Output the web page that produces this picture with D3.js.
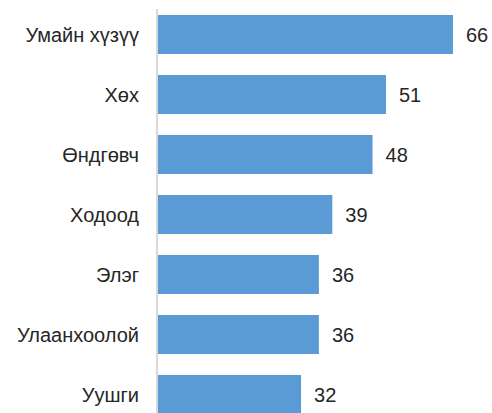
<!DOCTYPE html>
<html><head><meta charset="utf-8">
<script src="https://cdn.jsdelivr.net/npm/d3@7"></script>
<style>body{margin:0;background:#fff}svg{display:block}</style>
</head><body>
<svg id="c" width="492" height="413"></svg>
<script>
const categories = ["Умайн хүзүү","Хөх","Өндгөвч","Ходоод","Элэг","Улаанхоолой","Уушги"];
const values = [66,51,48,39,36,36,32];

const svg = d3.select("#c");
const x0 = 158;
const x = d3.scaleLinear().domain([0, 66]).range([x0, x0 + 295]);
const y = d3.scaleBand().domain(categories).range([4.5, 424.5]).paddingInner(0.35).paddingOuter(0.175);

svg.selectAll("rect.bar").data(categories).join("rect")
  .attr("class","bar")
  .attr("x", x(0))
  .attr("y", d => y(d))
  .attr("width", (d,i) => x(values[i]) - x(0))
  .attr("height", y.bandwidth())
  .attr("fill", "#5B9BD5");

svg.append("line").attr("x1", x0 - 1).attr("x2", x0 - 1).attr("y1", 9).attr("y2", 413)
  .attr("stroke", "#d9d9d9").attr("stroke-width", 2);

const font = "'Liberation Sans', Arial, sans-serif";
svg.selectAll("text.cat").data(categories).join("text")
  .attr("class","cat")
  .attr("x", 139)
  .attr("y", d => y(d) + y.bandwidth()/2)
  .attr("dy", "0.37em")
  .attr("text-anchor","end")
  .attr("font-family", font).attr("font-size", 20).attr("fill", "#262626")
  .text(d => d);

svg.selectAll("text.val").data(categories).join("text")
  .attr("class","val")
  .attr("x", (d,i) => x(values[i]) + 13)
  .attr("y", d => y(d) + y.bandwidth()/2)
  .attr("dy", "0.37em")
  .attr("font-family", font).attr("font-size", 20).attr("fill", "#262626")
  .text((d,i) => values[i]);
</script>
</body></html>
